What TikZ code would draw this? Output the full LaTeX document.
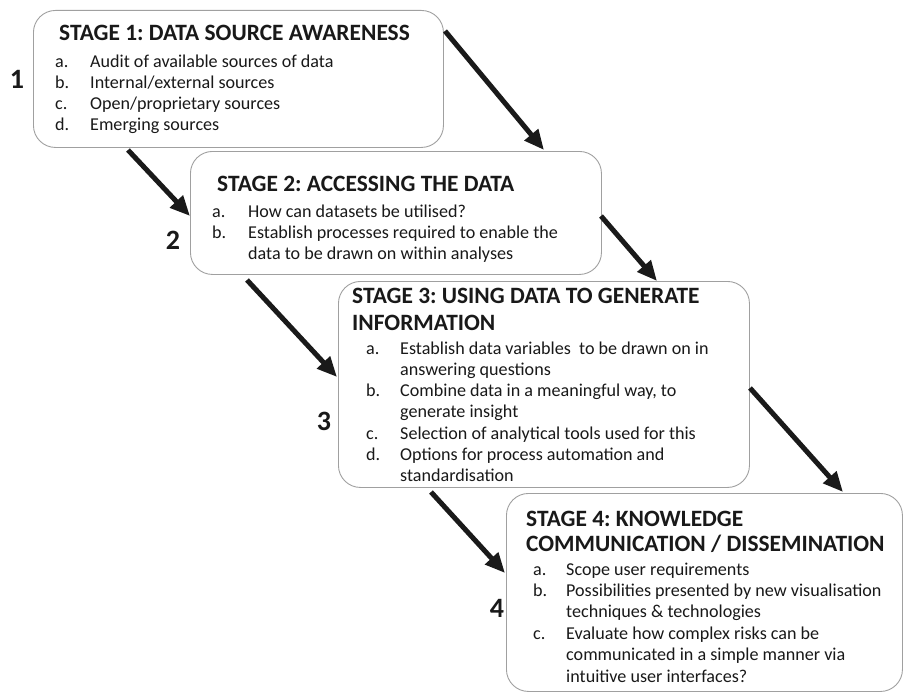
\documentclass[tikz,border=0pt]{standalone}
\usepackage{fontspec}
\setmainfont{Carlito}
\usetikzlibrary{arrows.meta}
\definecolor{boxgray}{RGB}{160,160,160}
\definecolor{arrblack}{RGB}{26,26,26}
\frenchspacing
\begin{document}
\begin{tikzpicture}[x=1pt,y=-1pt,
  stagebox/.style={draw=boxgray,line width=0.9pt,rounded corners=22pt,rectangle,anchor=north west,inner sep=0pt},
  ttl/.style={font=\fontsize{23.4}{28}\selectfont\bfseries,anchor=base west,inner sep=0pt,text=black!90},
  bodytxt/.style={font=\fontsize{18.1}{22}\selectfont,anchor=base west,inner sep=0pt,text=black!90},
  num/.style={font=\fontsize{28}{32}\selectfont\bfseries,inner sep=0pt,text=black!90},
  arr/.style={draw=arrblack,line width=5pt,-{Triangle[length=20pt,width=17pt]}}]
\useasboundingbox (0,0) rectangle (904,693);
\fill[white] (0,0) rectangle (904,693);
% boxes
\node[stagebox,minimum width=410pt,minimum height=137pt] (s1) at (33,10) {};
\node[stagebox,minimum width=411pt,minimum height=123pt] (s2) at (190,151) {};
\node[stagebox,minimum width=411pt,minimum height=206pt] (s3) at (338,281) {};
\node[stagebox,minimum width=396pt,minimum height=198pt] (s4) at (506,493) {};
% numbers
\node[num] (n1) at (17,79) {1};
\node[num] (n2) at (173,240) {2};
\node[num] (n3) at (324,421) {3};
\node[num] (n4) at (497,608) {4};
% stage 1
\node[ttl] (t1) at (59,41) {STAGE 1: DATA SOURCE AWARENESS};
\node[bodytxt] (l1a) at (55,67) {a.};   \node[bodytxt] (i1a) at (90,67) {Audit of available sources of data};
\node[bodytxt] (l1b) at (55,88) {b.};   \node[bodytxt] (i1b) at (90,88) {Internal/external sources};
\node[bodytxt] (l1c) at (55,109) {c.};  \node[bodytxt] (i1c) at (90,109) {Open/proprietary sources};
\node[bodytxt] (l1d) at (55,130) {d.};  \node[bodytxt] (i1d) at (90,130) {Emerging sources};
% stage 2
\node[ttl] (t2) at (217,191) {STAGE 2: ACCESSING THE DATA};
\node[bodytxt] (l2a) at (212,217) {a.};  \node[bodytxt] (i2a) at (248,217) {How can datasets be utilised?};
\node[bodytxt] (l2b) at (212,238) {b.};  \node[bodytxt] (i2b) at (248,238) {Establish processes required to enable the};
\node[bodytxt] (i2c) at (248,259) {data to be drawn on within analyses};
% stage 3
\node[ttl] (t3) at (352,303) {STAGE 3: USING DATA TO GENERATE};
\node[ttl] (t3b) at (352,330) {INFORMATION};
\node[bodytxt] (l3a) at (366,354) {a.};   \node[bodytxt] (i3a) at (400,354) {Establish data variables\ \ to be drawn on in};
\node[bodytxt] (i3a2) at (400,375.3) {answering questions};
\node[bodytxt] (l3b) at (366,396.6) {b.};   \node[bodytxt] (i3b) at (400,396.6) {Combine data in a meaningful way, to};
\node[bodytxt] (i3b2) at (400,417.9) {generate insight};
\node[bodytxt] (l3c) at (366,439.2) {c.};   \node[bodytxt] (i3c) at (400,439.2) {Selection of analytical tools used for this};
\node[bodytxt] (l3d) at (366,460.5) {d.}; \node[bodytxt] (i3d) at (400,460.5) {Options for process automation and};
\node[bodytxt] (i3d2) at (400,481.8) {standardisation};
% stage 4
\node[ttl] (t4) at (526,526) {STAGE 4: KNOWLEDGE};
\node[ttl] (t4b) at (526,551) {COMMUNICATION / DISSEMINATION};
\node[bodytxt] (l4a) at (533,575) {a.};    \node[bodytxt] (i4a) at (566,575) {Scope user requirements};
\node[bodytxt] (l4b) at (533,596.4) {b.};  \node[bodytxt] (i4b) at (566,596.4) {Possibilities presented by new visualisation};
\node[bodytxt] (i4b2) at (566,617.8) {techniques \& technologies};
\node[bodytxt] (l4c) at (533,639.2) {c.};  \node[bodytxt] (i4c) at (566,639.2) {Evaluate how complex risks can be};
\node[bodytxt] (i4c2) at (566,660.6) {communicated in a simple manner via};
\node[bodytxt] (i4c3) at (566,682) {intuitive user interfaces?};
% arrow end points
\coordinate (a1s) at (128,150); \coordinate (a1e) at (190,216);
\coordinate (a2s) at (445,31);  \coordinate (a2e) at (544,150);
\coordinate (a3s) at (247,280); \coordinate (a3e) at (337,377);
\coordinate (a4s) at (601,216); \coordinate (a4e) at (657,281);
\coordinate (a5s) at (431,492); \coordinate (a5e) at (505,573);
\coordinate (a6s) at (750,388); \coordinate (a6e) at (843,492);
\draw[arr] (a1s) -- (a1e);
\draw[arr] (a2s) -- (a2e);
\draw[arr] (a3s) -- (a3e);
\draw[arr] (a4s) -- (a4e);
\draw[arr] (a5s) -- (a5e);
\draw[arr] (a6s) -- (a6e);
\end{tikzpicture}
\end{document}
